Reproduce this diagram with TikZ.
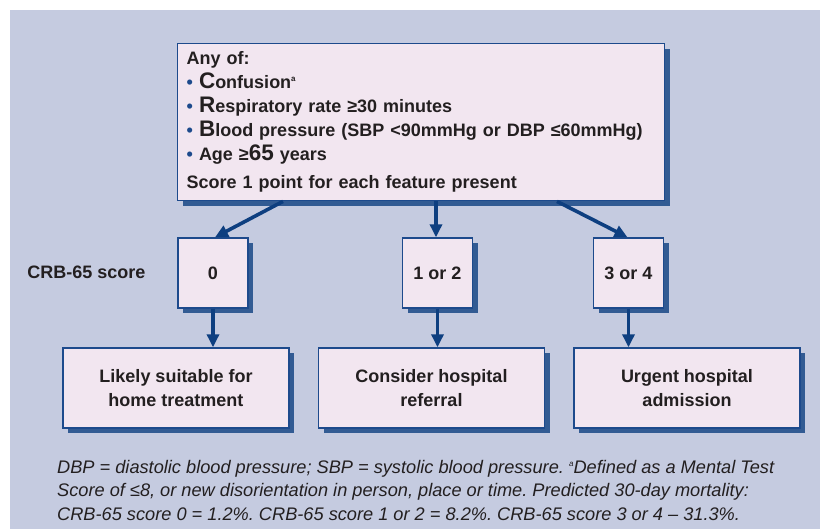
\documentclass[tikz,border=0pt]{standalone}
\usepackage{fontspec}
\setmainfont{Liberation Sans}
\usetikzlibrary{positioning,shadows}
\usetikzlibrary{arrows.meta}
\definecolor{bgcol}{HTML}{C5CBE0}
\definecolor{boxfill}{HTML}{F2E6F0}
\definecolor{boxline}{HTML}{1D4A8C}
\definecolor{arrcol}{HTML}{0E3F80}
\definecolor{txtcol}{HTML}{231F20}
\tikzset{
  crbbox/.style={draw=boxline, line width=1.4pt, fill=boxfill, text=txtcol,
    font=\fontsize{18}{24}\selectfont\bfseries,
    drop shadow={shadow xshift=5pt, shadow yshift=-5pt, fill=arrcol, opacity=.8}},
  scorebox/.style={crbbox, minimum width=70pt, minimum height=70pt, inner sep=0pt},
  actbox/.style={crbbox, minimum width=226pt, minimum height=80pt, align=center},
  arr/.style={-{Triangle[length=13pt,width=12pt]}, draw=arrcol, line width=3.6pt}
}
\newcommand{\blt}{{\color{boxline}\textbullet}\ }
\newcommand{\bigL}[1]{{\fontsize{22.5}{24}\selectfont #1}}
\newcommand{\supa}{\raisebox{7pt}{\fontsize{8}{8}\selectfont a}}
\frenchspacing
\begin{document}
\begin{tikzpicture}[x=1pt,y=1pt]
  %% page frame and the blue panel behind everything
  \useasboundingbox (0,0) rectangle (820,-529);
  \fill[bgcol] (10,-10) rectangle (820,-529);

  %% criteria box on top
  \node[crbbox, anchor=north west, minimum width=487pt, minimum height=157pt,
    text width=469pt, inner xsep=9pt, align=left] (crit) at (177,-43)
    {Any of:\\
     \blt\bigL{C}onfusion\supa\\
     \blt\bigL{R}espiratory rate ≥30 minutes\\
     \blt\bigL{B}lood pressure (SBP <90mmHg or DBP ≤60mmHg)\\
     \blt Age ≥\bigL{65} years\\[4pt]
     Score 1 point for each feature present};

  %% the three score boxes
  \node[scorebox] (s0) at (213,-273) {0};
  \node[scorebox] (s12) at (437.5,-273) {1 or 2};
  \node[scorebox] (s34) at (628.5,-273) {3 or 4};
  \node[anchor=east, text=txtcol, font=\fontsize{18}{20}\selectfont\bfseries] (lbl) at (149,-272) {CRB-65 score};

  %% what to do
  \node[actbox] (home) at (176,-388) {Likely suitable for\\home treatment};
  \node[actbox] (refer) at (431.5,-388) {Consider hospital\\referral};
  \node[actbox] (urgent) at (687,-388) {Urgent hospital\\admission};

  %% arrows
  \draw[arr] ([xshift=106pt]crit.south west) -- ([xshift=2pt]s0.north);
  \draw[arr] ([xshift=259pt]crit.south west) -- ([xshift=259pt]crit.south west |- s12.north);
  \draw[arr] ([xshift=380pt]crit.south west) -- ([xshift=-1pt]s34.north);
  \draw[arr] (s0.south) -- (s0.south |- home.north);
  \draw[arr] (s12.south) -- (s12.south |- refer.north);
  \draw[arr] (s34.south) -- (s34.south |- urgent.north);

  %% footnote
  \node[anchor=west, align=left, text=txtcol, inner sep=0pt,
    font=\itshape\fontsize{18.2}{23.5}\selectfont] (note) at (57,-490)
    {DBP = diastolic blood pressure; SBP = systolic blood pressure. \supa Defined as a Mental Test\\
     Score of ≤8, or new disorientation in person, place or time. Predicted 30-day mortality:\\
     CRB-65 score 0 = 1.2\%. CRB-65 score 1 or 2 = 8.2\%. CRB-65 score 3 or 4 – 31.3\%.};
\end{tikzpicture}
\end{document}
